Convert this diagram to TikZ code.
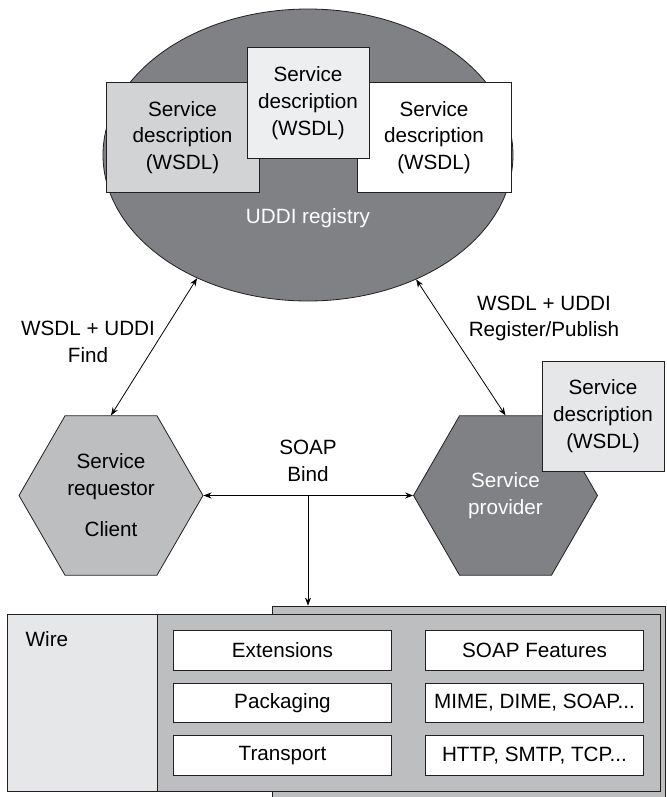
\documentclass[tikz,border=0pt]{standalone}
\usepackage{fontspec}
\setmainfont{Liberation Sans}
\usetikzlibrary{shapes.geometric,arrows.meta}
\definecolor{regdark}{HTML}{808184}
\definecolor{midgray}{HTML}{BCBEC0}
\definecolor{descgray}{HTML}{D1D3D4}
\definecolor{palegray}{HTML}{E6E7E8}
\definecolor{edgeline}{HTML}{231F20}
\tikzset{
  outline/.style={draw=edgeline, line width=0.6pt},
  descbox/.style={outline, align=center, inner sep=0pt, minimum height=83pt},
  hexnode/.style={outline, regular polygon, regular polygon sides=6, minimum size=138pt, inner sep=0pt, align=center},
  layerbox/.style={outline, fill=white, minimum width=164pt, minimum height=29.5pt, inner sep=0pt},
  twoway/.style={line width=0.6pt, {Stealth[length=6pt,width=4.5pt]}-{Stealth[length=6pt,width=4.5pt]}},
  oneway/.style={line width=0.6pt, -{Stealth[length=6pt,width=4.5pt]}},
}
\begin{document}
\begin{tikzpicture}[x=0.75pt, y=-0.75pt, font=\fontsize{15.5}{20}\selectfont]
  % 1 unit = 1 pixel of the 667 x 797 page, y runs downwards
  \useasboundingbox (0,0) rectangle (667,797);

  % UDDI registry with three descriptions
  \node[outline, ellipse, fill=regdark, minimum width=307.5pt, minimum height=219pt] (registry) at (308,155) {};
  \node[text=white] (regname) at (308,218) {UDDI registry};
  \node[descbox, fill=descgray, minimum width=114.75pt] (descL) at (182.5,137.5) {Service\\description\\(WSDL)};
  \node[descbox, fill=white, minimum width=115.5pt] (descR) at (434,137.5) {Service\\description\\(WSDL)};
  \node[descbox, fill=palegray!70!white, minimum width=91.5pt] (descM) at (308,103) {Service\\description\\(WSDL)};

  % requestor and provider
  \node[hexnode, fill=midgray] (requestor) at (111,495.5) {Service\\requestor\\[11pt]Client};
  \node[hexnode, fill=regdark, text=white] (provider) at (505.5,495.5) {Service\\provider};
  \node[descbox, fill=palegray, minimum width=91.5pt, minimum height=82.5pt] (provdesc) at (603,416) {Service\\description\\(WSDL)};

  \draw[twoway] (requestor.north) -- (registry.228.4);
  \draw[twoway] (provider.north) -- (registry.311.6);
  \draw[twoway] (requestor.east) -- (provider.west);
  \node[align=center] (findlbl) at (88,342) {WSDL + UDDI\\Find};
  \node[align=center] (publbl) at (544,318.5) {WSDL + UDDI\\Register/Publish};
  \node[align=center] (bindlbl) at (308,461) {SOAP\\Bind};

  % wire stack
  \node[outline, fill=midgray, minimum width=294.75pt, minimum height=145.5pt] (wireback) at (468.5,703) {};
  \node[outline, fill=palegray, minimum width=112.5pt, minimum height=132.75pt] (wirelbl) at (82,702.5) {};
  \node[outline, fill=midgray, minimum width=377.25pt, minimum height=132.75pt] (wirestack) at (408.5,702.5) {};
  \node[anchor=west] (wiretxt) at (21,639) {Wire};
  \coordinate (bindpt) at (308,495.5);
  \draw[oneway] (bindpt) -- (bindpt |- wireback.north);

  \node[layerbox] (ext) at (282.5,650.5) {Extensions};
  \node[layerbox] (pack) at (282.5,703) {Packaging};
  \node[layerbox] (trans) at (282.5,755.5) {Transport};
  \node[layerbox] (feat) at (534.5,650.5) {SOAP Features};
  \node[layerbox] (mime) at (534.5,703) {MIME, DIME, SOAP...};
  \node[layerbox] (http) at (534.5,755.5) {HTTP, SMTP, TCP...};
\end{tikzpicture}
\end{document}
